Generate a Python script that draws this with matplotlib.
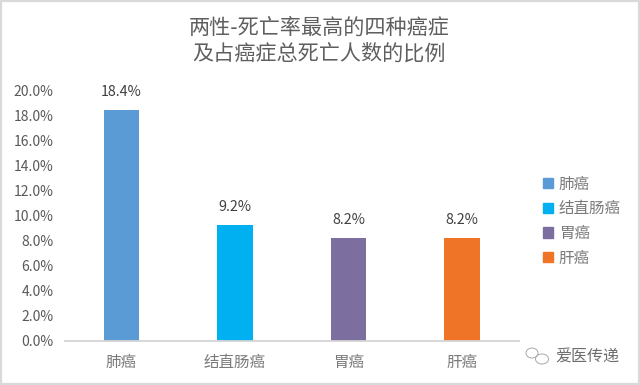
import matplotlib
matplotlib.use("Agg")
import matplotlib.pyplot as plt
from matplotlib.patches import Rectangle, Ellipse
from matplotlib.ticker import FuncFormatter, MultipleLocator

categories = ["肺癌", "结直肠癌", "胃癌", "肝癌"]
values = [18.4, 9.2, 8.2, 8.2]
colors = ["#5B9BD5", "#00B0F0", "#7C6FA0", "#F07427"]
title = "两性-死亡率最高的四种癌症\n及占癌症总死亡人数的比例"
watermark = "爱医传递"

plt.rcParams['font.family'] = ['Noto Sans CJK SC', 'DejaVu Sans']
W, H = 640, 385
fig = plt.figure(figsize=(W/100, H/100), dpi=100, facecolor="white")

L, R, T, B = 64.5, 519, 90, 340.5
ax = fig.add_axes([L/W, 1-B/H, (R-L)/W, (B-T)/H])
ax.set_facecolor("none")

x = list(range(len(categories)))
bars = ax.bar(x, values, width=0.312, color=colors, label=None)
ax.set_xlim(-0.5, 3.5)
ax.set_ylim(0, 20)
ax.yaxis.set_major_locator(MultipleLocator(2))
ax.yaxis.set_major_formatter(FuncFormatter(lambda v, p: f"{v:.1f}%"))
ax.set_xticks(x, categories)
for s in ("top", "right", "left"):
    ax.spines[s].set_visible(False)
ax.spines["bottom"].set_color("#D4D4D4")
ax.spines["bottom"].set_linewidth(1.3)
ax.tick_params(axis="both", length=0)
ax.tick_params(axis="y", labelsize=10, labelcolor="#595959", pad=8)
ax.tick_params(axis="x", labelsize=11.2, labelcolor="#7A7A7A", pad=9.5)

for xi, v in zip(x, values):
    ax.annotate(f"{v:.1f}%", (xi, v), xytext=(0, 8), textcoords="offset points",
                ha="center", va="bottom", fontsize=10.3, color="#404040")

fig.text(319/W, 1-40.5/H, title, ha="center", va="center", fontsize=15.2,
         color="#5F5F5F", linespacing=1.2, fontweight="light")

# legend
handles = [Rectangle((0, 0), 1, 1, color=c) for c in colors]
fig.legend(handles, categories, loc="upper left", bbox_to_anchor=(538/W, 1-171/H),
           frameon=False, fontsize=11.2, labelcolor="#7A7A7A",
           handlelength=0.64, handleheight=0.64, handletextpad=0.4, labelspacing=0.49,
           borderpad=0.3, borderaxespad=0)

# watermark
fig.text(555/W, 1-357/H, watermark, ha="left", va="center", fontsize=11.5, color="#6E6E6E")
for (cx, cy, w, h) in [(532, 353, 12, 10), (542, 359, 13, 10)]:
    fig.add_artist(Ellipse((cx/W, 1-cy/H), w/W, h/H, transform=fig.transFigure,
                           fill=False, ec="#A8A8A8", lw=0.7))

# outer frame
fig.add_artist(Rectangle((0.8/W, 0.8/H), (W-1.6)/W, (H-1.6)/H, transform=fig.transFigure,
                         fill=False, ec="#D9D9D9", lw=1.6))
fig.savefig("out.png", dpi=100)
